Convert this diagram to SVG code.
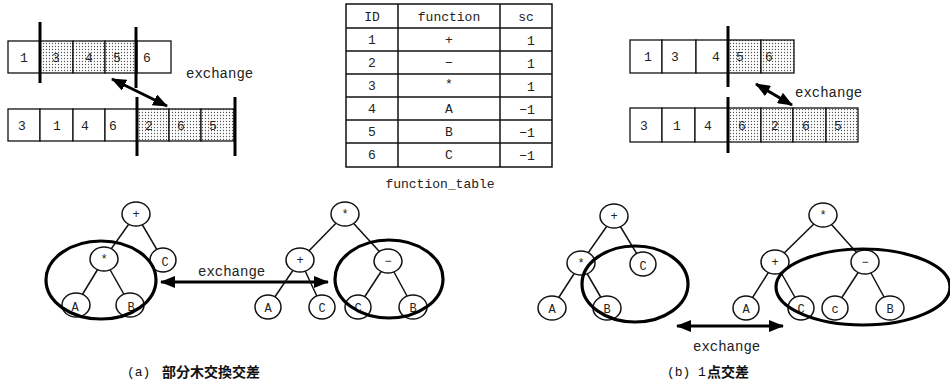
<svg xmlns="http://www.w3.org/2000/svg" width="950" height="383" viewBox="0 0 950 383">
  <style>
    .cell { fill: #fff; stroke: #111; stroke-width: 1.3; }
    .dot { fill: url(#dots); stroke: #111; stroke-width: 1.3; }
    .bar { stroke: #000; stroke-width: 3; }
    .txt { font-family: "Liberation Mono", "Courier New", monospace; font-size: 13px; fill: #222; text-anchor: middle; }
    .lbl { font-family: "Liberation Mono", "Courier New", monospace; font-size: 14px; fill: #222; }
    .node ellipse { fill: #fff; stroke: #111; stroke-width: 1.5; }
    .node text { font-family: "Liberation Mono", "Courier New", monospace; font-size: 12px; fill: #222; text-anchor: middle; }
    .edge { stroke: #111; stroke-width: 1.5; }
    .ring { fill: none; stroke: #000; stroke-width: 3.2; }
    .xarrow { stroke: #000; stroke-width: 3; }
    .tbl { fill: none; stroke: #111; stroke-width: 1.5; }
    .cap { font-family: "Liberation Mono", "Noto Sans CJK JP", monospace; font-size: 13px; fill: #111; }
    .cjk { font-family: "Noto Sans CJK JP", sans-serif; font-size: 14px; font-weight: bold; fill: #111; }
  </style>
  <defs>
    <pattern id="dots" width="3" height="3" patternUnits="userSpaceOnUse">
      <rect width="3" height="3" fill="#fff"/>
      <circle cx="1.5" cy="1.5" r="0.65" fill="#555"/>
    </pattern>
    <marker id="head" viewBox="0 0 15 12" refX="14" refY="6" markerWidth="15" markerHeight="12" markerUnits="userSpaceOnUse" orient="auto-start-reverse">
      <path d="M0,0 L15,6 L0,12 z" fill="#000"/>
    </marker>
  </defs>
  <rect width="950" height="383" fill="#fff"/>

  <!-- chromosome arrays, subtree exchange -->
  <g id="arrayA1">
    <rect class="cell" x="8" y="41" width="32" height="32"/>
    <rect class="dot" x="40" y="41" width="33" height="32"/>
    <rect class="dot" x="73" y="41" width="32" height="32"/>
    <rect class="dot" x="105" y="41" width="32" height="32"/>
    <rect class="cell" x="137" y="41" width="34" height="32"/>
    <text class="txt" x="24" y="62">1</text>
    <text class="txt" x="56" y="62">3</text>
    <text class="txt" x="89" y="62">4</text>
    <text class="txt" x="117" y="62">5</text>
    <text class="txt" x="147" y="62">6</text>
  </g>
  <g id="arrayA2">
    <rect class="cell" x="8" y="109" width="32" height="32"/>
    <rect class="cell" x="40" y="109" width="33" height="32"/>
    <rect class="cell" x="73" y="109" width="32" height="32"/>
    <rect class="cell" x="105" y="109" width="32" height="32"/>
    <rect class="dot" x="137" y="109" width="32" height="32"/>
    <rect class="dot" x="169" y="109" width="32" height="32"/>
    <rect class="dot" x="201" y="109" width="33" height="32"/>
    <text class="txt" x="22" y="130">3</text>
    <text class="txt" x="57" y="130">1</text>
    <text class="txt" x="85" y="130">4</text>
    <text class="txt" x="113" y="130">6</text>
    <text class="txt" x="149" y="130">2</text>
    <text class="txt" x="181" y="130">6</text>
    <text class="txt" x="213" y="130">5</text>
  </g>
  <g id="cutsA">
    <line class="bar" x1="40" y1="22" x2="40" y2="83"/>
    <line class="bar" x1="136" y1="27" x2="136" y2="88"/>
    <line class="bar" x1="137" y1="97" x2="137" y2="156"/>
    <line class="bar" x1="235" y1="97" x2="235" y2="156"/>
  </g>

  <!-- function table -->
  <g id="function_table">
    <rect class="tbl" x="346" y="4" width="206" height="163" stroke-width="2"/>
    <line class="tbl" x1="398" y1="4" x2="398" y2="167"/>
    <line class="tbl" x1="500" y1="4" x2="500" y2="167"/>
    <line class="tbl" x1="346" y1="28" x2="552" y2="28"/>
    <line class="tbl" x1="346" y1="51" x2="552" y2="51"/>
    <line class="tbl" x1="346" y1="74" x2="552" y2="74"/>
    <line class="tbl" x1="346" y1="97" x2="552" y2="97"/>
    <line class="tbl" x1="346" y1="120" x2="552" y2="120"/>
    <line class="tbl" x1="346" y1="143" x2="552" y2="143"/>
    <text class="txt" x="372" y="21">ID</text>
    <text class="txt" x="449" y="21">function</text>
    <text class="txt" x="526" y="21">sc</text>
    <text class="txt" x="372" y="44">1</text><text class="txt" x="449" y="44">+</text><text class="txt" x="531" y="45">1</text>
    <text class="txt" x="372" y="67">2</text><text class="txt" x="449" y="67">−</text><text class="txt" x="531" y="68">1</text>
    <text class="txt" x="372" y="90">3</text><text class="txt" x="449" y="88">*</text><text class="txt" x="531" y="91">1</text>
    <text class="txt" x="372" y="113">4</text><text class="txt" x="449" y="113">A</text><text class="txt" x="527" y="114">−1</text>
    <text class="txt" x="372" y="136">5</text><text class="txt" x="449" y="136">B</text><text class="txt" x="527" y="137">−1</text>
    <text class="txt" x="372" y="159">6</text><text class="txt" x="449" y="159">C</text><text class="txt" x="527" y="160">−1</text>
    <text class="txt" x="440" y="188">function_table</text>
  </g>

  <!-- chromosome arrays, one-point crossover -->
  <g id="arrayB1">
    <rect class="cell" x="630" y="40" width="32" height="33"/>
    <rect class="cell" x="662" y="40" width="34" height="33"/>
    <rect class="cell" x="696" y="40" width="32" height="33"/>
    <rect class="dot" x="728" y="40" width="33" height="33"/>
    <rect class="dot" x="761" y="40" width="33" height="33"/>
    <text class="txt" x="648" y="61">1</text>
    <text class="txt" x="675" y="61">3</text>
    <text class="txt" x="716" y="61">4</text>
    <text class="txt" x="740" y="61">5</text>
    <text class="txt" x="769" y="61">6</text>
  </g>
  <g id="arrayB2">
    <rect class="cell" x="630" y="108" width="32" height="34"/>
    <rect class="cell" x="662" y="108" width="33" height="34"/>
    <rect class="cell" x="695" y="108" width="33" height="34"/>
    <rect class="dot" x="728" y="108" width="33" height="34"/>
    <rect class="dot" x="761" y="108" width="32" height="34"/>
    <rect class="dot" x="793" y="108" width="33" height="34"/>
    <rect class="dot" x="826" y="108" width="32" height="34"/>
    <text class="txt" x="644" y="130">3</text>
    <text class="txt" x="677" y="130">1</text>
    <text class="txt" x="708" y="130">4</text>
    <text class="txt" x="742" y="130">6</text>
    <text class="txt" x="775" y="130">2</text>
    <text class="txt" x="806" y="130">6</text>
    <text class="txt" x="838" y="130">5</text>
  </g>
  <g id="cutsB">
    <line class="bar" x1="728" y1="26" x2="728" y2="87"/>
    <line class="bar" x1="728" y1="97" x2="728" y2="153"/>
  </g>

  <!-- connectors -->
  <g id="connectors">
    <line class="xarrow" x1="112" y1="79" x2="167" y2="106" marker-start="url(#head)" marker-end="url(#head)"/>
    <line class="xarrow" x1="756" y1="84" x2="792" y2="105" marker-start="url(#head)" marker-end="url(#head)"/>
    <line class="xarrow" x1="161" y1="282" x2="328" y2="282" marker-start="url(#head)" marker-end="url(#head)"/>
    <line class="xarrow" x1="677" y1="326" x2="783" y2="326" marker-start="url(#head)" marker-end="url(#head)"/>
    <!-- tree edges (a) -->
    <line class="edge" x1="136" y1="214" x2="104" y2="259"/>
    <line class="edge" x1="136" y1="214" x2="163" y2="260"/>
    <line class="edge" x1="104" y1="259" x2="76" y2="305"/>
    <line class="edge" x1="104" y1="259" x2="130" y2="305"/>
    <line class="edge" x1="345" y1="214" x2="300" y2="260"/>
    <line class="edge" x1="345" y1="214" x2="388" y2="261"/>
    <line class="edge" x1="300" y1="260" x2="268" y2="307"/>
    <line class="edge" x1="300" y1="260" x2="322" y2="307"/>
    <line class="edge" x1="388" y1="261" x2="358" y2="307"/>
    <line class="edge" x1="388" y1="261" x2="413" y2="307"/>
    <!-- tree edges (b) -->
    <line class="edge" x1="614" y1="216" x2="581" y2="263"/>
    <line class="edge" x1="614" y1="216" x2="643" y2="264"/>
    <line class="edge" x1="581" y1="263" x2="552" y2="308"/>
    <line class="edge" x1="581" y1="263" x2="607" y2="308"/>
    <line class="edge" x1="823" y1="215" x2="775" y2="262"/>
    <line class="edge" x1="823" y1="215" x2="865" y2="262"/>
    <line class="edge" x1="775" y1="262" x2="746" y2="308"/>
    <line class="edge" x1="775" y1="262" x2="801" y2="308"/>
    <line class="edge" x1="865" y1="262" x2="835" y2="308"/>
    <line class="edge" x1="865" y1="262" x2="890" y2="308"/>
  </g>

  <text class="lbl" x="186" y="78">exchange</text>
  <text class="lbl" x="795" y="97">exchange</text>
  <text class="lbl" x="198" y="276">exchange</text>
  <text class="lbl" x="693" y="351">exchange</text>

  <!-- tree nodes (a) -->
  <g id="a_plus1" class="node"><ellipse cx="136" cy="214" rx="14" ry="12"/><text x="136" y="218">+</text></g>
  <g id="a_mul1" class="node"><ellipse cx="104" cy="259" rx="14" ry="12"/><text x="104" y="263">*</text></g>
  <g id="a_c1" class="node"><ellipse cx="163" cy="260" rx="13" ry="12"/><text x="165" y="266">C</text></g>
  <g id="a_a1" class="node"><ellipse cx="76" cy="305" rx="14" ry="12"/><text x="75" y="311">A</text></g>
  <g id="a_b1" class="node"><ellipse cx="130" cy="305" rx="14" ry="12"/><text x="131" y="311">B</text></g>
  <g id="a_mul2" class="node"><ellipse cx="345" cy="214" rx="14" ry="12"/><text x="345" y="218">*</text></g>
  <g id="a_plus2" class="node"><ellipse cx="300" cy="260" rx="14" ry="12"/><text x="300" y="264">+</text></g>
  <g id="a_minus2" class="node"><ellipse cx="388" cy="261" rx="14" ry="12"/><text x="388" y="265">−</text></g>
  <g id="a_a2" class="node"><ellipse cx="268" cy="307" rx="13" ry="12"/><text x="268" y="312">A</text></g>
  <g id="a_c2" class="node"><ellipse cx="322" cy="307" rx="13" ry="12"/><text x="322" y="312">C</text></g>
  <g id="a_c3" class="node"><ellipse cx="358" cy="307" rx="13" ry="12"/><text x="358" y="312">C</text></g>
  <g id="a_b2" class="node"><ellipse cx="413" cy="307" rx="14" ry="12"/><text x="413" y="312">B</text></g>
  <g id="a_rings">
    <ellipse class="ring" cx="101" cy="280" rx="55" ry="39"/>
    <ellipse class="ring" cx="389" cy="279" rx="54" ry="39"/>
  </g>

  <!-- tree nodes (b) -->
  <g id="b_plus1" class="node"><ellipse cx="614" cy="216" rx="14" ry="12"/><text x="614" y="220">+</text></g>
  <g id="b_mul1" class="node"><ellipse cx="581" cy="263" rx="14" ry="12"/><text x="581" y="267">*</text></g>
  <g id="b_c1" class="node"><ellipse cx="643" cy="264" rx="13" ry="12"/><text x="643" y="270">C</text></g>
  <g id="b_a1" class="node"><ellipse cx="552" cy="308" rx="14" ry="12"/><text x="552" y="313">A</text></g>
  <g id="b_b1" class="node"><ellipse cx="607" cy="308" rx="14" ry="12"/><text x="607" y="313">B</text></g>
  <g id="b_mul2" class="node"><ellipse cx="823" cy="215" rx="14" ry="12"/><text x="823" y="219">*</text></g>
  <g id="b_plus2" class="node"><ellipse cx="775" cy="262" rx="14" ry="12"/><text x="775" y="266">+</text></g>
  <g id="b_minus2" class="node"><ellipse cx="865" cy="262" rx="14" ry="12"/><text x="865" y="266">−</text></g>
  <g id="b_a2" class="node"><ellipse cx="746" cy="308" rx="13" ry="12"/><text x="746" y="313">A</text></g>
  <g id="b_c2" class="node"><ellipse cx="801" cy="308" rx="13" ry="12"/><text x="801" y="313">C</text></g>
  <g id="b_c3" class="node"><ellipse cx="835" cy="308" rx="13" ry="12"/><text x="835" y="313">c</text></g>
  <g id="b_b2" class="node"><ellipse cx="890" cy="308" rx="14" ry="12"/><text x="890" y="313">B</text></g>
  <g id="b_rings">
    <ellipse class="ring" cx="635" cy="284" rx="53" ry="38"/>
    <ellipse class="ring" cx="863" cy="287" rx="87" ry="38"/>
  </g>

  <!-- captions -->
  <text class="cap" x="127" y="376">(a)</text>
  <text class="cjk" x="162" y="377">部分木交換交差</text>
  <text class="cap" x="667" y="376">(b)</text>
  <text class="cap" x="698" y="376">1</text>
  <text class="cjk" x="707" y="377">点交差</text>
</svg>
